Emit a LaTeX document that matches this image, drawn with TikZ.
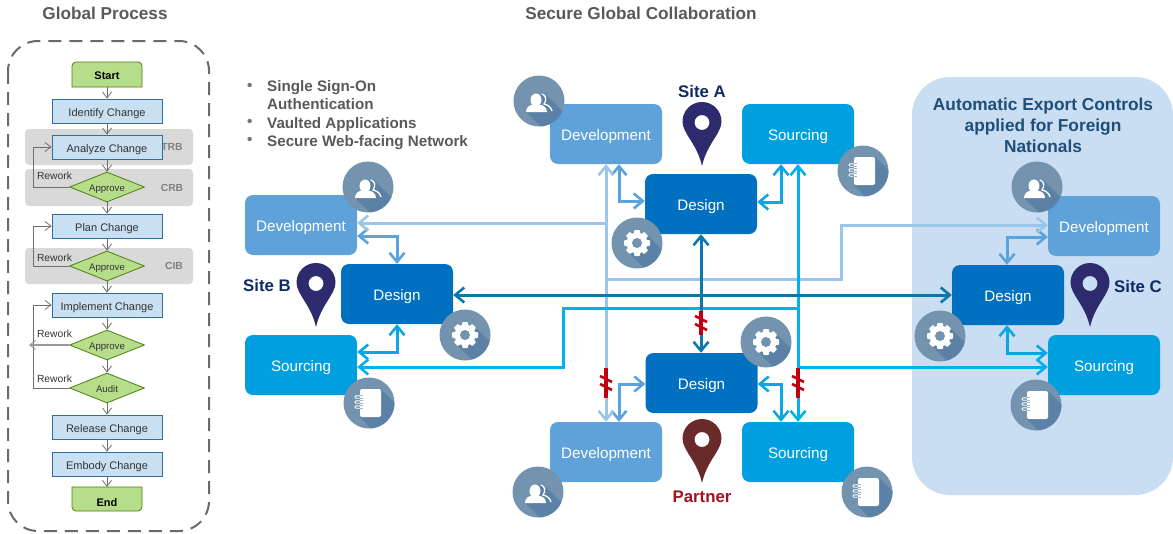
\documentclass[tikz,border=0pt]{standalone}
\usepackage{fontspec}
\setmainfont{Liberation Sans}
\usetikzlibrary{arrows.meta,shapes.geometric}
\definecolor{devfill}{HTML}{5FA2D9}
\definecolor{srcfill}{HTML}{009FE0}
\definecolor{desfill}{HTML}{0070C0}
\definecolor{devlong}{HTML}{9CC5EA}
\definecolor{srclong}{HTML}{00B0F0}
\definecolor{deslong}{HTML}{0A78AC}
\definecolor{devshort}{HTML}{5BA3DC}
\definecolor{srcshort}{HTML}{0EA5E4}
\definecolor{iconbg}{HTML}{7393AE}
\definecolor{iconshade}{HTML}{5B82A6}
\definecolor{pinblue}{HTML}{2D2A6E}
\definecolor{pinred}{HTML}{6B2A2A}
\definecolor{sitenavy}{HTML}{0F2A66}
\definecolor{partnerred}{HTML}{9C1420}
\definecolor{region}{HTML}{C9DEF2}
\definecolor{regiontext}{HTML}{1F4E79}
\definecolor{titlegray}{HTML}{595959}
\definecolor{flowblue}{HTML}{C9DFF2}
\definecolor{flowedge}{HTML}{2E6F9E}
\definecolor{flowgreen}{HTML}{B6DD8A}
\definecolor{flowdark}{HTML}{4F7F10}
\definecolor{bandgray}{HTML}{D9D9D9}
\definecolor{flowline}{HTML}{6E6E6E}
\definecolor{breakred}{HTML}{C00010}

\begin{document}
\begin{tikzpicture}[
    x=1pt, y=-1pt,
    >={Straight Barb[length=9pt,width=15pt,line width=2.6pt]},
    title/.style = {font=\fontsize{17.2}{20}\selectfont\bfseries, text=titlegray},
    bullettext/.style = {
      font=\fontsize{15.2}{18}\selectfont\bfseries,
      text=titlegray,
      align=left,
      anchor=west,
      inner sep=0pt
    },
    sitelabel/.style = {font=\fontsize{16.8}{20}\selectfont\bfseries, text=sitenavy},
    box/.style = {
      rounded corners=8pt,
      minimum width=112,
      minimum height=60,
      inner sep=0pt,
      text height=13pt,
      text depth=1pt,
      text=white,
      font=\fontsize{15.2}{18}\selectfont
    },
    devbox/.style = {box, fill=devfill},
    srcbox/.style = {box, fill=srcfill},
    desbox/.style = {box, fill=desfill},
    devlink/.style = {line width=3pt, devlong},
    srclink/.style = {line width=3pt, srclong},
    deslink/.style = {line width=3pt, deslong},
    devlocal/.style = {line width=3pt, devshort},
    srclocal/.style = {line width=3pt, srcshort},
    process/.style = {
      draw=flowedge,
      fill=flowblue,
      line width=0.8pt,
      minimum width=110,
      minimum height=24,
      inner sep=0pt,
      text height=10pt,
      text depth=0pt,
      text=black!80,
      font=\fontsize{11}{13}\selectfont
    },
    decision/.style = {
      diamond,
      draw=flowdark,
      fill=flowgreen,
      line width=0.8pt,
      aspect=2.5,
      minimum width=75,
      minimum height=30,
      inner sep=0pt,
      text height=9.5pt,
      text depth=0.5pt,
      text=black!80,
      font=\fontsize{9.6}{11}\selectfont
    },
    terminal/.style = {draw=flowdark, fill=flowgreen, line width=0.8pt},
    terminaltext/.style = {
      minimum width=70,
      minimum height=25,
      inner sep=0pt,
      text height=10pt,
      text depth=0.4pt,
      font=\fontsize{11}{13}\selectfont\bfseries
    },
    band/.style = {fill=bandgray, rounded corners=4pt},
    bandtext/.style = {font=\fontsize{10.3}{12}\selectfont\bfseries, text=black!50, inner sep=0pt},
    reworktext/.style = {font=\fontsize{10.3}{12}\selectfont, text=black!80, inner sep=0pt},
    flow/.style = {
      flowline,
      line width=0.8pt,
      >={Straight Barb[length=6pt,width=9pt,line width=0.8pt]}
    },
    pin/.pic = {
      \fill[pic actions, even odd rule]
        (0,-19.5) .. controls (10.8,-19.5) and (19.5,-10.8) .. (19.5,0)
        .. controls (19.5,12) and (5,22) .. (0,44.5)
        .. controls (-5,22) and (-19.5,12) .. (-19.5,0)
        .. controls (-19.5,-10.8) and (-10.8,-19.5) .. (0,-19.5) -- cycle
        (0,1) circle (7.5);
    },
    usericon/.pic = {
      \fill[iconbg] (0,0) circle (25.5);
      \begin{scope}
        \clip (0,0) circle (25.5);
        \fill[iconshade] (5,-8) -- (42,29) -- (42,42) -- (19,42) -- (-13,11) -- cycle;
      \end{scope}
      \fill[white] (-3,-1) ellipse (5.5 and 6.5);
      \fill[white] (-13,11) .. controls (-13,6) and (-9,4) .. (-6,3.5) -- (0,3.5)
        .. controls (4,4) and (8,6) .. (8,11) -- cycle;
      \draw[white, line width=1.3pt] (3,-7) .. controls (7,-6) and (8,-1) .. (5,3)
        .. controls (9,4) and (12,6) .. (13,10);
    },
    gearicon/.pic = {
      \fill[iconbg] (0,0) circle (25.5);
      \begin{scope}
        \clip (0,0) circle (25.5);
        \fill[iconshade] (9,-9) -- (42,24) -- (42,42) -- (24,42) -- (-9,9) -- cycle;
      \end{scope}
      \fill[white] (0,0) circle (10.5);
      \foreach \a in {0,45,...,315}
        \fill[white, rotate=\a, rounded corners=1pt] (-3,-13) rectangle (3,-8);
      \fill[iconbg] (0,0) circle (5);
    },
    bookicon/.pic = {
      \fill[iconbg] (0,0) circle (25.5);
      \begin{scope}
        \clip (0,0) circle (25.5);
        \fill[iconshade] (12,-14) -- (42,16) -- (42,42) -- (18,42) -- (-9,14) -- cycle;
      \end{scope}
      \fill[white, rounded corners=2pt] (-9,-14) rectangle (12,14);
      \foreach \b in {-6,-1,4} {
        \draw[white, line width=0.9pt, rounded corners=1pt] (-9,\b-1.2) -- (-14,\b-1.2) -- (-14,\b+1.2) -- (-9,\b+1.2);
        \draw[iconbg!70, line width=0.7pt] (-9,\b-1.2) -- (-6,\b-1.2) (-9,\b+1.2) -- (-6,\b+1.2);
      }
    }
  ]
  \useasboundingbox (0,0) rectangle (1173,533);
  \fill[region, rounded corners=38pt] (912,77) rectangle (1173,495);

  % titles
  \node[title] (titlea) at (105,13) {Global Process};
  \node[title] (titleb) at (641,13) {Secure Global Collaboration};
  \node[bullettext] (bulletone) at (267,95) {Single Sign-On\\Authentication};
  \node[bullettext] (bullettwo) at (267,125) {Vaulted Applications};
  \node[bullettext] (bulletthree) at (267,143) {Secure Web-facing Network};
  \foreach \n/\y in {marka/87, markb/123, markc/141}
    \node[bullettext, text=black!55] (\n) at (247,\y) {•};
  \node[font=\fontsize{17.3}{21}\selectfont\bfseries, text=regiontext, align=center,
    inner sep=0pt] (regiontitle) at (1043,125)
    {Automatic Export Controls\\applied for Foreign\\Nationals};

  % process column
  \draw[titlegray!90, line width=2pt, dash pattern=on 13pt off 8pt, rounded corners=30pt]
    (8,41) rectangle (209,531);
  \fill[band] (25,129) rectangle (193,165);
  \fill[band] (25,169) rectangle (193,206);
  \fill[band] (25,248) rectangle (193,284);
  \node[bandtext] (trb) at (172,147) {TRB};
  \node[bandtext] (crb) at (172,188) {CRB};
  \node[bandtext] (cib) at (174,266) {CIB};

  \filldraw[terminal] (72,87) [rounded corners=4pt] -- (72,62) -- (142,62) [sharp corners] -- (142,87) -- cycle;
  \filldraw[terminal] (72,487) -- (142,487) [rounded corners=4pt] -- (142,511) -- (72,511) [sharp corners] -- cycle;
  \node[terminaltext] (start) at (107,74.5) {Start};
  \node[terminaltext, minimum height=24] (end) at (107,502) {End};
  \node[process] (identify) at (107,111) {Identify Change};
  \node[process] (analyze) at (107,147) {Analyze Change};
  \node[decision] (approvea) at (107,187) {Approve};
  \node[process] (plan) at (107,226) {Plan Change};
  \node[decision] (approveb) at (107,266) {Approve};
  \node[process] (implement) at (107,305) {Implement Change};
  \node[decision] (approvec) at (107,345) {Approve};
  \node[decision] (audit) at (107,388) {Audit};
  \node[process] (release) at (107,427) {Release Change};
  \node[process] (embody) at (107,464) {Embody Change};

  \foreach \a/\b in {start/identify, identify/analyze, analyze/approvea, approvea/plan,
    plan/approveb, approveb/implement, implement/approvec, approvec/audit, audit/release,
    release/embody}
    \draw[flow, ->] (\a.south) -- (\b.north);
  \draw[flow, ->] (embody.south) -- (107,487);
  \draw[flow, ->] (approvea.west) -- (33,187) |- (analyze.west);
  \draw[flow, ->] (approveb.west) -- (33,266) |- (plan.west);
  \draw[flow, ->] (audit.west) -- (33,388) |- (implement.west);
  \draw[flow, ->, line width=1.2pt, black!40] (approvec.west) -- (29,345);
  \foreach \n/\y in {reworka/176, reworkb/258, reworkc/334, reworkd/379}
    \node[reworktext] (\n) at (54.5,\y) {Rework};

  % site boxes
  \node[devbox] (devA) at (606,134) {Development};
  \node[srcbox] (srcA) at (798,134) {Sourcing};
  \node[desbox] (desA) at (701,204) {Design};
  \node[devbox] (devB) at (301,225) {Development};
  \node[desbox] (desB) at (397,294) {Design};
  \node[srcbox] (srcB) at (301,365) {Sourcing};
  \node[devbox] (devC) at (1104,226) {Development};
  \node[desbox] (desC) at (1008,295) {Design};
  \node[srcbox] (srcC) at (1104,365) {Sourcing};
  \node[devbox] (devP) at (606,452) {Development};
  \node[srcbox] (srcP) at (798,452) {Sourcing};
  \node[desbox] (desP) at (701.5,383) {Design};

  % links inside a site
  \draw[devlocal, <->] (devA.south -| 619,0) |- (desA.west |- 0,201);
  \draw[srclocal, <->] (srcA.south -| 781,0) |- (desA.east |- 0,202);
  \draw[devlocal, <->] (devB.east |- 0,236) -| (desB.north);
  \draw[srclocal, <->] (srcB.east |- 0,352) -| (desB.south);
  \draw[devlocal, <->] (devC.west |- 0,237) -| (desC.north -| 1007,0);
  \draw[srclocal, <->] (srcC.west |- 0,353) -| (desC.south -| 1007,0);
  \draw[devlocal, <->] (devP.north -| 619,0) |- (desP.west |- 0,384);
  \draw[srclocal, <->] (srcP.north -| 781,0) |- (desP.east |- 0,384);

  % links between sites
  \draw[devlink, <->] (devA.south) -- (devP.north);
  \draw[devlink, ->] (devA.south |- 0,223) -- (devB.east |- 0,223);
  \draw[devlink, ->] (devA.south |- 0,279) -| (841,225) -- (devC.west |- 0,225);
  \draw[srclink, <->] (srcA.south) -- (srcP.north);
  \draw[srclink, ->] (srcA.south |- 0,308) -| (563,367) -- (srcB.east |- 0,367);
  \draw[srclink, ->] (srcA.south |- 0,367) -- (srcC.west |- 0,367);
  \draw[deslink, <->] (desB.east |- 0,295) -- (desC.west |- 0,295);
  \draw[deslink, <->] (desA.south) -- (desA.south |- desP.north);

  % cut links to the partner
  \foreach \x/\ya/\yb in {606/368/398, 798/368/398, 701/311/335} {
    \draw[breakred, line width=3.6pt] (\x,\ya) -- (\x,\yb);
    \draw[breakred, line width=2.6pt] (\x-6,{(\ya+\yb)/2-7}) -- (\x+6,{(\ya+\yb)/2-1});
    \draw[breakred, line width=2.6pt] (\x-6,{(\ya+\yb)/2+1}) -- (\x+6,{(\ya+\yb)/2+7});
  }

  % icons and pins
  \foreach \x/\y in {539/101, 368/187, 1037/187, 538/492}
    \pic at (\x,\y) {usericon};
  \foreach \x/\y in {637/243, 465/335, 940/336, 766/342}
    \pic at (\x,\y) {gearicon};
  \foreach \x/\y in {863/171, 369/403, 1036/405, 867/492}
    \pic at (\x,\y) {bookicon};
  \foreach \x/\y in {702/121.5, 316/282.5, 1090/282.5}
    \pic[fill=pinblue] at (\x,\y) {pin};
  \pic[fill=pinred] at (702,438.5) {pin};

  \node[sitelabel] (siteA) at (702,91) {Site A};
  \node[sitelabel] (siteB) at (267,285) {Site B};
  \node[sitelabel] (siteC) at (1138,286) {Site C};
  \node[sitelabel, text=partnerred] (partner) at (702,497) {Partner};
\end{tikzpicture}
\end{document}
